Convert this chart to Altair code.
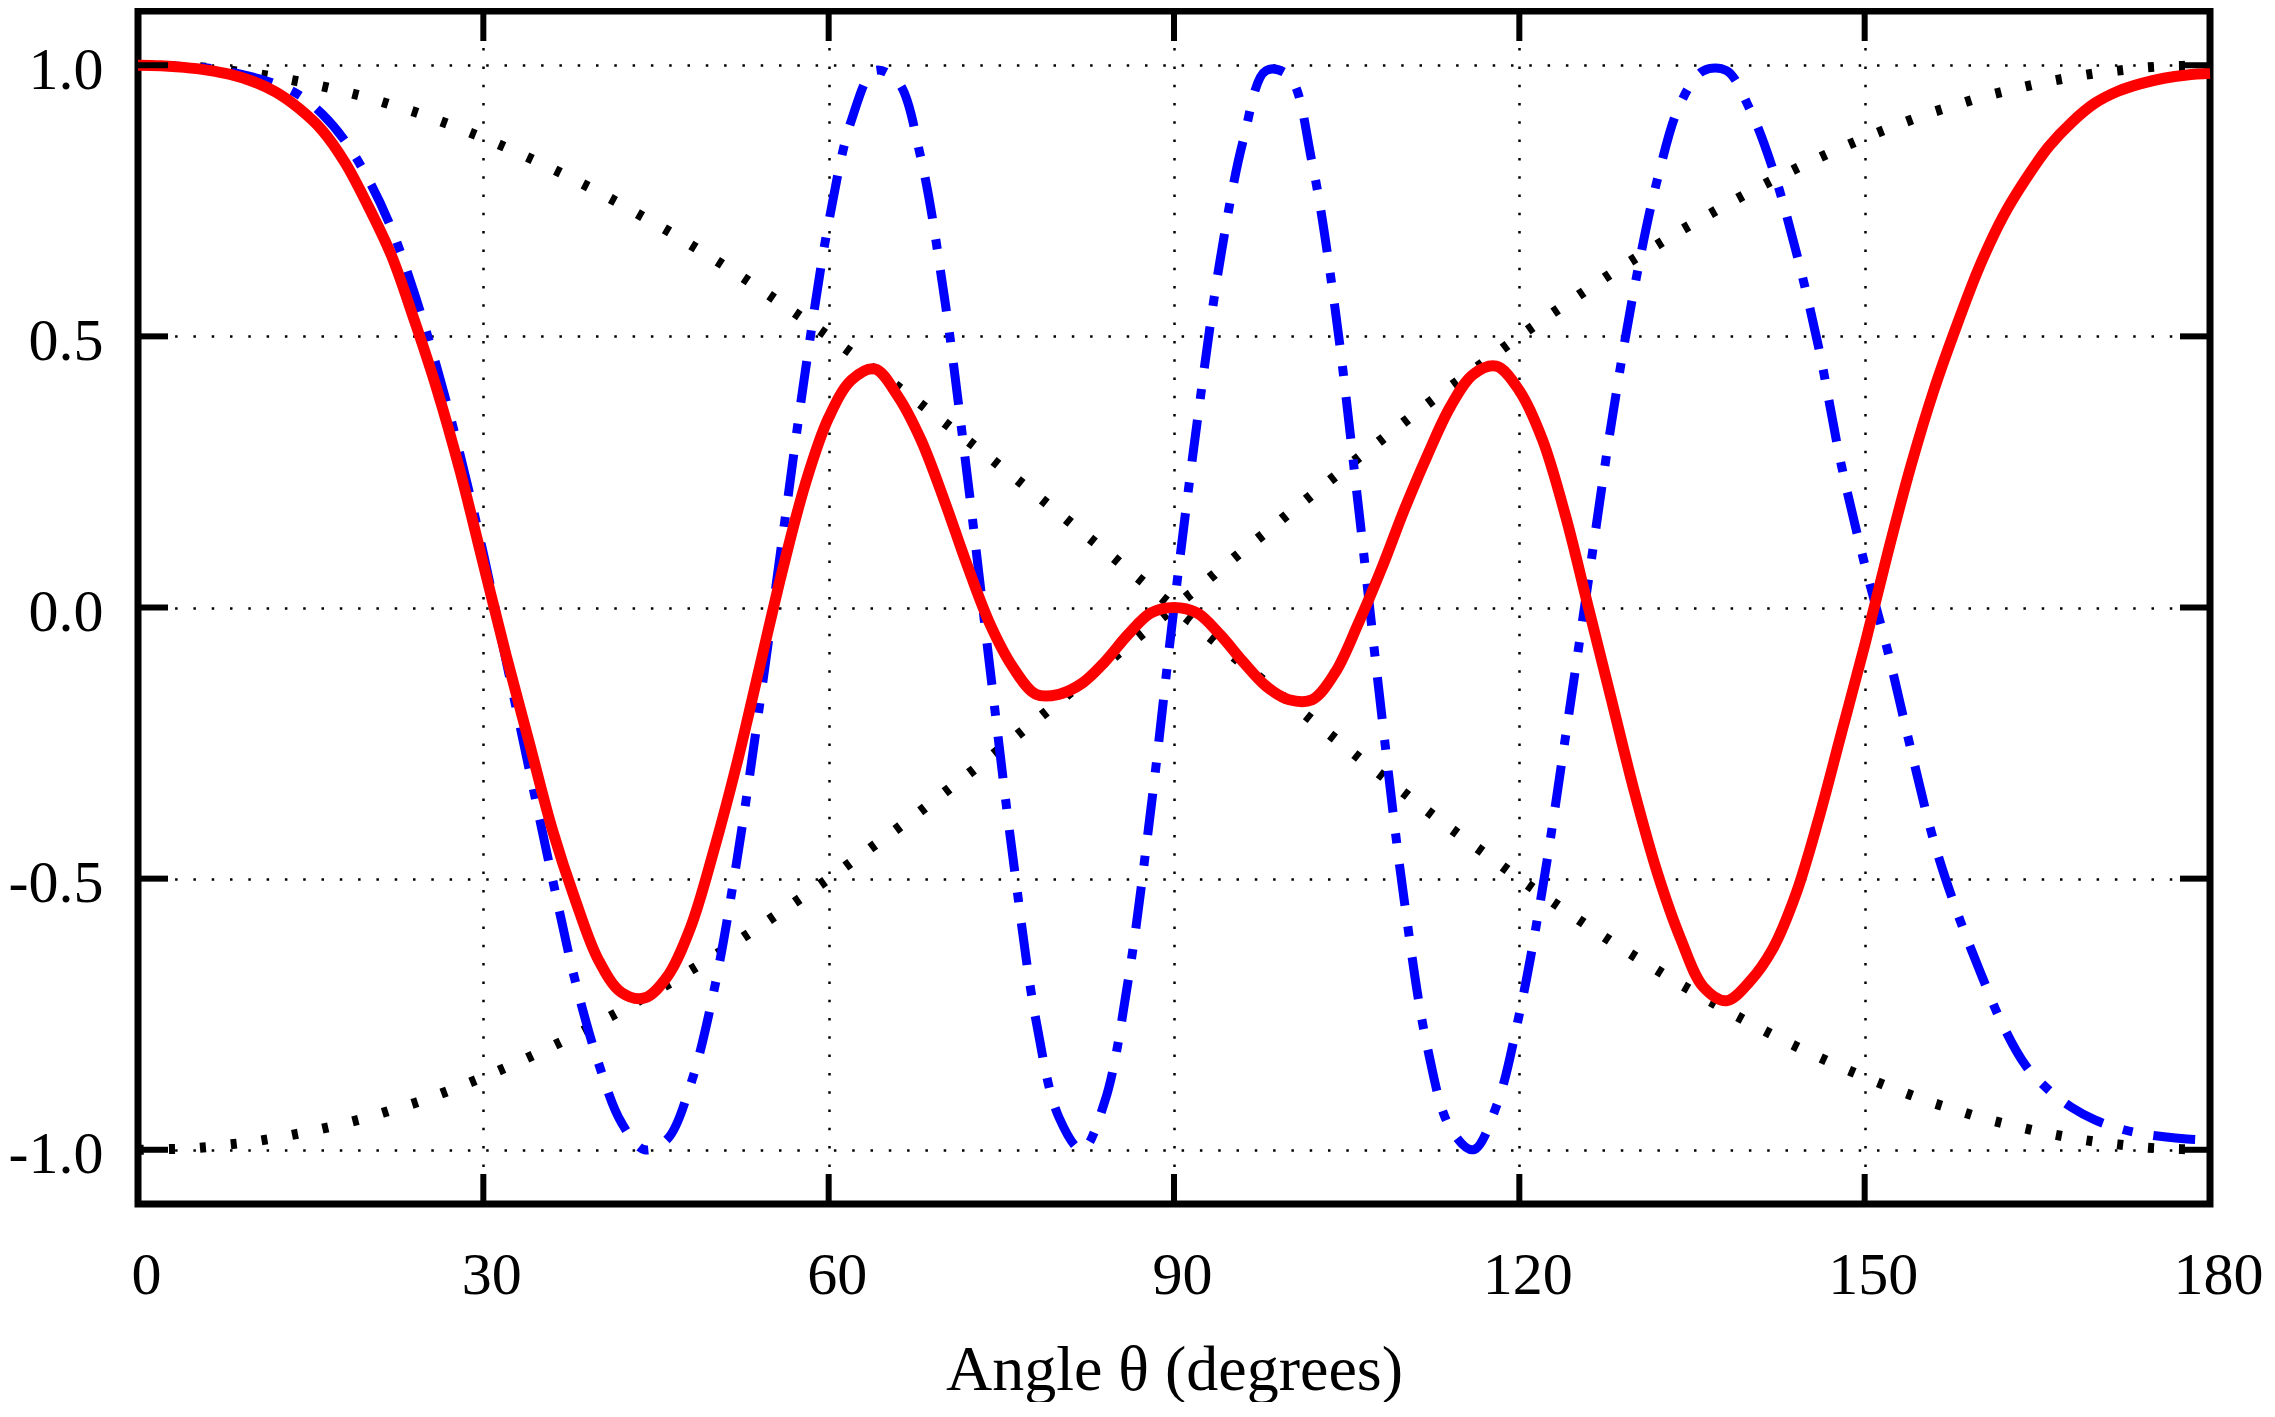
import altair as alt
import pandas as pd

# Angle samples (degrees)
theta = [0, 2, 4, 6, 8, 10, 12, 14, 16, 18, 20, 22, 24, 26, 28, 30, 32, 34, 36, 38,
         40, 42, 44, 46, 48, 50, 52, 54, 56, 58, 60, 62, 64, 66, 68, 70, 72, 74, 76, 78,
         80, 82, 84, 86, 88, 90, 92, 94, 96, 98, 100, 102, 104, 106, 108, 110, 112, 114,
         116, 118, 120, 122, 124, 126, 128, 130, 132, 134, 136, 138, 140, 142, 144, 146,
         148, 150, 152, 154, 156, 158, 160, 162, 164, 166, 168, 170, 172, 174, 176, 178, 180]

# black dotted curve starting at +1
dotted_upper = [1.000, 0.999, 0.998, 0.995, 0.990, 0.985, 0.978, 0.970, 0.961, 0.951,
                0.940, 0.927, 0.914, 0.899, 0.883, 0.866, 0.848, 0.829, 0.809, 0.788,
                0.766, 0.743, 0.719, 0.695, 0.669, 0.643, 0.616, 0.588, 0.559, 0.530,
                0.500, 0.469, 0.438, 0.407, 0.375, 0.342, 0.309, 0.276, 0.242, 0.208,
                0.174, 0.139, 0.105, 0.070, 0.035, 0.000, -0.035, -0.070, -0.105, -0.139,
                -0.174, -0.208, -0.242, -0.276, -0.309, -0.342, -0.375, -0.407, -0.438, -0.469,
                -0.500, -0.530, -0.559, -0.588, -0.616, -0.643, -0.669, -0.695, -0.719, -0.743,
                -0.766, -0.788, -0.809, -0.829, -0.848, -0.866, -0.883, -0.899, -0.914, -0.927,
                -0.940, -0.951, -0.961, -0.970, -0.978, -0.985, -0.990, -0.995, -0.998, -0.999,
                -1.000]

# black dotted curve starting at -1
dotted_lower = [-1.000, -0.999, -0.998, -0.995, -0.990, -0.985, -0.978, -0.970, -0.961, -0.951,
                -0.940, -0.927, -0.914, -0.899, -0.883, -0.866, -0.848, -0.829, -0.809, -0.788,
                -0.766, -0.743, -0.719, -0.695, -0.669, -0.643, -0.616, -0.588, -0.559, -0.530,
                -0.500, -0.469, -0.438, -0.407, -0.375, -0.342, -0.309, -0.276, -0.242, -0.208,
                -0.174, -0.139, -0.105, -0.070, -0.035, 0.000, 0.035, 0.070, 0.105, 0.139,
                0.174, 0.208, 0.242, 0.276, 0.309, 0.342, 0.375, 0.407, 0.438, 0.469,
                0.500, 0.530, 0.559, 0.588, 0.616, 0.643, 0.669, 0.695, 0.719, 0.743,
                0.766, 0.788, 0.809, 0.829, 0.848, 0.866, 0.883, 0.899, 0.914, 0.927,
                0.940, 0.951, 0.961, 0.970, 0.978, 0.985, 0.990, 0.995, 0.998, 0.999,
                1.000]

# blue dash-dot curve
blue_curve = [1.000, 0.999, 0.998, 0.995, 0.988, 0.978, 0.965, 0.945, 0.91, 0.86,
              0.79, 0.70, 0.58, 0.44, 0.28, 0.10, -0.10, -0.30, -0.50, -0.69,
              -0.84, -0.95, -1.00, -0.98, -0.88, -0.71, -0.47, -0.18, 0.13, 0.44,
              0.71, 0.90, 0.99, 0.97, 0.83, 0.58, 0.25, -0.11, -0.46, -0.76,
              -0.94, -1.00, -0.91, -0.69, -0.37, 0.00, 0.34, 0.64, 0.86, 0.99,
              0.98, 0.82, 0.55, 0.19, -0.19, -0.54, -0.81, -0.96, -1.00, -0.92,
              -0.75, -0.52, -0.24, 0.05, 0.34, 0.59, 0.79, 0.93, 0.99, 0.99,
              0.92, 0.81, 0.66, 0.48, 0.26, 0.08, -0.08, -0.26, -0.43, -0.56,
              -0.67, -0.77, -0.845, -0.89, -0.922, -0.945, -0.96, -0.97, -0.976, -0.98,
              -0.982]

# red solid curve
red_curve = [1.000, 0.999, 0.996, 0.991, 0.983, 0.970, 0.950, 0.920, 0.88, 0.82,
             0.74, 0.65, 0.53, 0.40, 0.25, 0.08, -0.09, -0.25, -0.41, -0.54,
             -0.65, -0.71, -0.72, -0.68, -0.59, -0.45, -0.29, -0.11, 0.07, 0.23,
             0.35, 0.42, 0.44, 0.39, 0.31, 0.20, 0.08, -0.03, -0.11, -0.16,
             -0.16, -0.14, -0.10, -0.05, -0.01, 0.00, -0.01, -0.05, -0.10, -0.145,
             -0.17, -0.17, -0.12, -0.03, 0.07, 0.18, 0.28, 0.37, 0.43, 0.445,
             0.40, 0.31, 0.17, 0.00, -0.17, -0.34, -0.49, -0.61, -0.70, -0.725,
             -0.69, -0.63, -0.53, -0.39, -0.23, -0.07, 0.10, 0.26, 0.40, 0.52,
             0.63, 0.72, 0.79, 0.85, 0.895, 0.93, 0.952, 0.966, 0.976, 0.982,
             0.985]

x_ticks = [0, 30, 60, 90, 120, 150, 180]
y_ticks = [-1.0, -0.5, 0.0, 0.5, 1.0]
x_title = "Angle θ (degrees)"

W = 2072
H = 1193
TICK = 30
FONT = "Liberation Serif"
CURVE = "catmull-rom"

xscale = alt.Scale(domain=[0, 180], nice=False, zero=False)
yscale = alt.Scale(domain=[-1.1, 1.1], nice=False, zero=False)

grid_dash = [2.5, 15.8]

xaxis = alt.Axis(values=x_ticks, title=x_title, format="d", grid=True,
                 gridColor="black", gridDash=grid_dash, gridWidth=2.5, gridOpacity=1,
                 domain=False, ticks=False, tickSize=0, labelFlush=False,
                 labelOverlap=False, labelFont=FONT, labelFontSize=60,
                 labelColor="black", labelPadding=42, labelOffset=8,
                 titleFont=FONT, titleFontSize=64, titleFontWeight="normal",
                 titleColor="black", titlePadding=33)
yaxis = alt.Axis(values=y_ticks, title=None, grid=True,
                 gridColor="black", gridDash=grid_dash, gridWidth=2.5, gridOpacity=1,
                 domain=False, ticks=False, tickSize=0, labelFlush=False,
                 labelOverlap=False, labelFont=FONT, labelFontSize=60,
                 labelColor="black", labelPadding=35, labelOffset=5,
                 labelExpr="datum.value < 0 ? '-' + format(-datum.value, '.1f') : format(datum.value, '.1f')")

X = alt.X("theta:Q", scale=xscale, axis=xaxis)
Y = alt.Y("value:Q", scale=yscale, axis=yaxis)

def series_df(vals):
    return pd.DataFrame({"theta": theta, "value": vals})

dot1 = alt.Chart(series_df(dotted_upper)).mark_line(
    color="black", strokeWidth=10, strokeDash=[6, 25], strokeCap="butt",
    interpolate=CURVE).encode(x=X, y=Y)
dot2 = alt.Chart(series_df(dotted_lower)).mark_line(
    color="black", strokeWidth=10, strokeDash=[6, 25], strokeCap="butt",
    interpolate=CURVE).encode(x=X, y=Y)
blue = alt.Chart(series_df(blue_curve)).mark_line(
    color="#0000ff", strokeWidth=9, strokeDash=[42, 21, 10, 21], strokeCap="butt",
    interpolate=CURVE).encode(x=X, y=Y)
red = alt.Chart(series_df(red_curve)).mark_line(
    color="#ff0000", strokeWidth=11, interpolate=CURVE).encode(x=X, y=Y)

xt = pd.DataFrame({"theta": x_ticks})
yt = pd.DataFrame({"value": y_ticks})

tb = alt.Chart(xt).mark_rule(color="black", strokeWidth=6).encode(
    x=X, y=alt.value(H), y2=alt.value(H - TICK))
tt = alt.Chart(xt).mark_rule(color="black", strokeWidth=6).encode(
    x=X, y=alt.value(0), y2=alt.value(TICK))
tl = alt.Chart(yt).mark_rule(color="black", strokeWidth=6).encode(
    y=Y, x=alt.value(0), x2=alt.value(TICK))
tr = alt.Chart(yt).mark_rule(color="black", strokeWidth=6).encode(
    y=Y, x=alt.value(W), x2=alt.value(W - TICK))

chart = alt.layer(dot1, dot2, blue, red, tb, tt, tl, tr).properties(
    width=W, height=H,
    padding={"left": 0, "top": 0, "right": 0, "bottom": 0},
    background="white",
).configure_view(stroke="black", strokeWidth=7)

chart.save("out.html", embed_options={"renderer": "svg", "actions": False})
